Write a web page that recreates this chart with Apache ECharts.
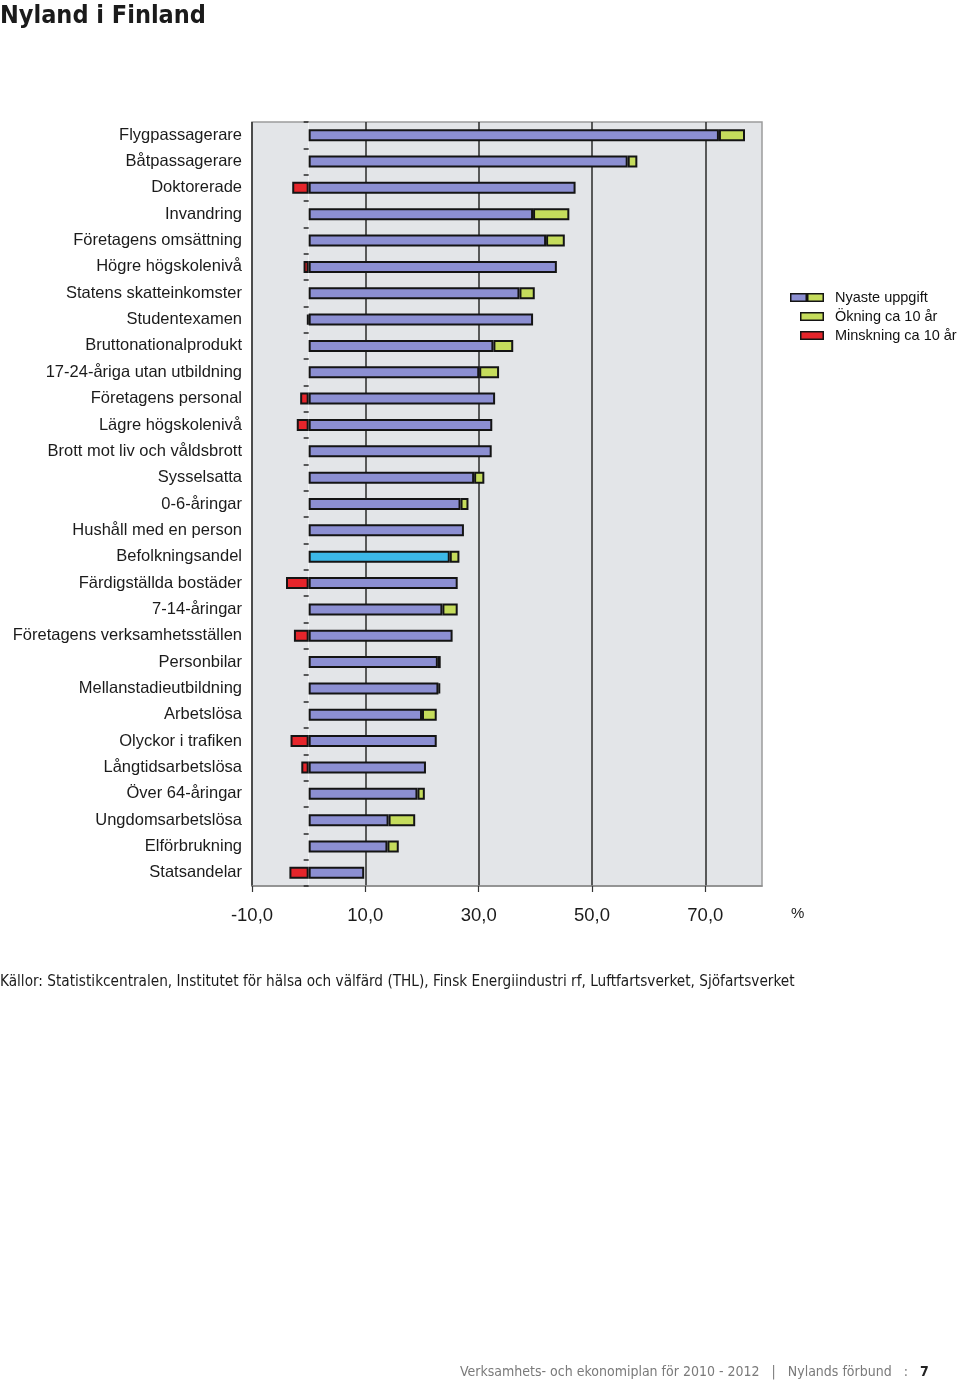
<!DOCTYPE html>
<html>
<head>
<meta charset="utf-8">
<script src="https://cdn.jsdelivr.net/npm/echarts@6/dist/echarts.min.js"></script>
<style>
  html, body { margin: 0; padding: 0; background: #ffffff; }
  #chart { width: 960px; height: 1380px; }
</style>
</head>
<body>
<div id="chart"></div>
<script>
// ---- data ----
const categories = [
  'Flygpassagerare', 'Båtpassagerare', 'Doktorerade', 'Invandring',
  'Företagens omsättning', 'Högre högskolenivå', 'Statens skatteinkomster',
  'Studentexamen', 'Bruttonationalprodukt', '17-24-åriga utan utbildning',
  'Företagens personal', 'Lägre högskolenivå', 'Brott mot liv och våldsbrott',
  'Sysselsatta', '0-6-åringar', 'Hushåll med en person', 'Befolkningsandel',
  'Färdigställda bostäder', '7-14-åringar', 'Företagens verksamhetsställen',
  'Personbilar', 'Mellanstadieutbildning', 'Arbetslösa', 'Olyckor i trafiken',
  'Långtidsarbetslösa', 'Över 64-åringar', 'Ungdomsarbetslösa', 'Elförbrukning',
  'Statsandelar'
];
// purple part (latest value, minus the increase when there is one)
const latestBase = [72.4, 56.3, 47.1, 39.6, 41.9, 43.8, 37.2, 39.6, 32.6, 30.1,
                    32.9, 32.4, 32.3, 29.2, 26.8, 27.4, 24.9, 26.3, 23.6, 25.4,
                    22.8, 22.9, 20.0, 22.6, 20.7, 19.2, 14.1, 13.9, 9.8];
// increase over ca 10 years (green)
const increase = [4.6, 1.7, 0, 6.4, 3.3, 0, 2.7, 0, 3.5, 3.5,
                  0, 0, 0, 1.8, 1.4, 0, 1.7, 0, 2.7, 0,
                  0.5, 0.3, 2.6, 0, 0, 1.3, 4.7, 2.0, 0];
// decrease over ca 10 years (red, drawn left of zero)
const decrease = [0, 0, 2.9, 0, 0, 0.9, 0, 0.3, 0, 0,
                  1.5, 2.1, 0, 0, 0, 0, 0, 4.0, 0, 2.6,
                  0, 0, 0, 3.2, 1.3, 0, 0, 0, 3.4];
const highlightCategory = 'Befolkningsandel';
const xTickValues = [-10, 10, 30, 50, 70];
const xMin = -10, xMax = 80, xInterval = 20;

// ---- styles ----
const C_PURPLE = '#8c8fd2';
const C_GREEN = '#c5dc5c';
const C_RED = '#e5252b';
const C_CYAN = '#3cb8e8';
const C_BORDER = '#141414';
const LABEL_FONT = '"Liberation Sans", Arial, Helvetica, sans-serif';
const NARROW_FONT = '"Liberation Sans Narrow", "DejaVu Sans Condensed", "Liberation Sans", sans-serif';

function svgIcon(inner) {
  return 'image://data:image/svg+xml;charset=utf-8,' + encodeURIComponent(
    "<svg xmlns='http://www.w3.org/2000/svg' width='34' height='9' viewBox='0 0 34 9'>" + inner + "</svg>");
}
const iconLatest = svgIcon(
  "<rect x='0.75' y='0.75' width='15.5' height='7.5' fill='" + C_PURPLE + "' stroke='" + C_BORDER + "' stroke-width='1.5'/>" +
  "<rect x='17.75' y='0.75' width='15.5' height='7.5' fill='" + C_GREEN + "' stroke='" + C_BORDER + "' stroke-width='1.5'/>");
const iconInc = svgIcon(
  "<rect x='10.75' y='0.75' width='22.5' height='7.5' fill='" + C_GREEN + "' stroke='" + C_BORDER + "' stroke-width='1.5'/>");
const iconDec = svgIcon(
  "<rect x='10.75' y='0.75' width='22.5' height='7.5' fill='" + C_RED + "' stroke='" + C_BORDER + "' stroke-width='1.5'/>");

const barStyle = (color) => ({ color: color, borderColor: C_BORDER, borderWidth: 2 });

const chart = echarts.init(document.getElementById('chart'), null, { renderer: 'canvas' });
chart.setOption({
  backgroundColor: '#ffffff',
  animation: false,
  title: [
    {
      text: 'Nyland i Finland', left: 0, top: 4, padding: 0,
      textStyle: { fontFamily: NARROW_FONT, fontSize: 25, fontWeight: 'bold', color: '#1b1b1b' }
    },
    {
      text: 'Källor: Statistikcentralen, Institutet för hälsa och välfärd (THL), Finsk Energiindustri rf, Luftfartsverket, Sjöfartsverket',
      left: 0, top: 975, padding: 0,
      textStyle: { fontFamily: NARROW_FONT, fontSize: 15.2, fontWeight: 'normal', color: '#1b1b1b' }
    },
    {
      text: '{a|Verksamhets- och ekonomiplan för 2010 - 2012   |   Nylands förbund   :   }{b|7}',
      left: 460, top: 1365, padding: 0,
      textStyle: {
        fontFamily: NARROW_FONT, fontSize: 14, fontWeight: 'normal', color: '#777',
        rich: {
          a: { fontFamily: NARROW_FONT, fontSize: 14, color: '#7a7a7a' },
          b: { fontFamily: NARROW_FONT, fontSize: 14, color: '#222', fontWeight: 'bold' }
        }
      }
    }
  ],
  legend: {
    orient: 'vertical', left: 790, top: 290, padding: 0,
    itemWidth: 34, itemHeight: 9, itemGap: 4,
    selectedMode: false,
    textStyle: { fontFamily: LABEL_FONT, fontSize: 14.5, color: '#111', padding: [0, 0, 0, 6] },
    data: [
      { name: 'Nyaste uppgift', icon: iconLatest },
      { name: 'Ökning ca 10 år', icon: iconInc },
      { name: 'Minskning ca 10 år', icon: iconDec }
    ]
  },
  grid: {
    left: 252, right: 198, top: 122, bottom: 494,
    outerBoundsMode: 'none', containLabel: false,
    show: true, backgroundColor: '#e3e5e8', borderColor: '#9c9c9c', borderWidth: 1.5
  },
  xAxis: {
    type: 'value', min: xMin, max: xMax, interval: xInterval,
    axisLine: { show: true, lineStyle: { color: '#8a8a8a', width: 1.5 } },
    axisTick: { show: true, length: 6, lineStyle: { color: '#333', width: 1.2 }, customValues: xTickValues },
    axisLabel: {
      margin: 20, fontFamily: LABEL_FONT, fontSize: 18.5, color: '#1b1b1b',
      customValues: xTickValues,
      formatter: (v) => v.toFixed(1).replace('.', ',')
    },
    splitLine: { show: true, lineStyle: { color: '#2a2a2a', width: 1.5 } }
  },
  yAxis: {
    type: 'category', data: categories, inverse: true,
    axisLine: { show: true, onZero: true, lineStyle: { color: '#f3f4f5', width: 1 } },
    axisTick: { show: true, length: 5, lineStyle: { color: '#2a2a2a', width: 1.5 } },
    axisLabel: { margin: 10, fontFamily: LABEL_FONT, fontSize: 16.5, color: '#1b1b1b' },
    splitLine: { show: false }
  },
  graphic: [
    {
      type: 'text', left: 791, top: 906,
      style: { text: '%', fontFamily: LABEL_FONT, fontSize: 15, fill: '#1b1b1b' }
    }
  ],
  series: [
    {
      name: 'Minskning ca 10 år', type: 'bar', stack: 'total', barWidth: 12,
      itemStyle: barStyle(C_RED),
      data: decrease.map(d => d ? -d : '-')
    },
    {
      name: 'Nyaste uppgift', type: 'bar', stack: 'total', barWidth: 12,
      itemStyle: barStyle(C_PURPLE),
      data: latestBase.map((v, i) => categories[i] === highlightCategory
        ? { value: v, itemStyle: { color: C_CYAN } } : v)
    },
    {
      name: 'Ökning ca 10 år', type: 'bar', stack: 'total', barWidth: 12,
      itemStyle: barStyle(C_GREEN),
      data: increase.map(v => v ? v : '-')
    }
  ]
});
</script>
</body>
</html>
